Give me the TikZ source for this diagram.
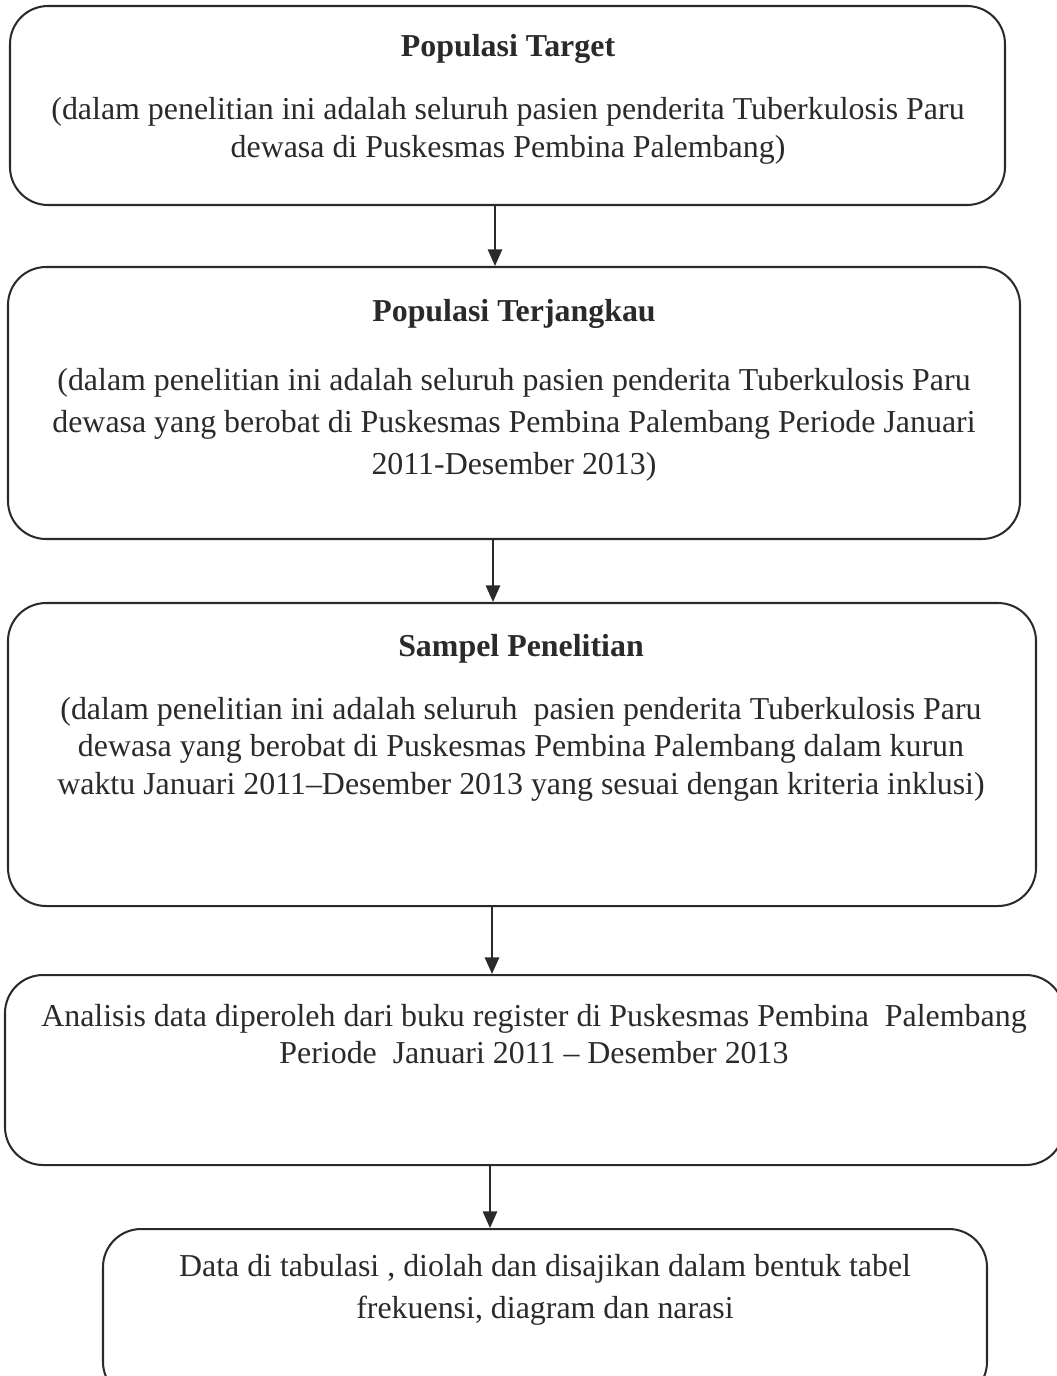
\documentclass[tikz,border=0pt]{standalone}
\usepackage{fontspec}
\setmainfont{Liberation Serif}
\usetikzlibrary{arrows.meta,fit}
\definecolor{ink}{HTML}{2A2A2A}
\tikzset{
  box/.style={draw=ink, line width=0.85pt, rounded corners=16pt, inner sep=0pt},
  txt/.style={text=ink, align=center, inner sep=0pt,
              font=\fontsize{13.4}{16}\selectfont},
  ttl/.style={txt, font=\fontsize{13.4}{16}\selectfont\bfseries},
  arr/.style={draw=ink, line width=0.85pt, -{Triangle[length=7pt,width=6pt]}}
}
\begin{document}
\begin{tikzpicture}[x=0.42pt,y=-0.42pt]
\useasboundingbox (0,0) rectangle (1057,1376);
\clip (0,0) rectangle (1057,1376);

% stage boxes
\node[box, fit={(10,6) (1005,205)}] (b1) {};
\node[box, fit={(8,267) (1020,539)}] (b2) {};
\node[box, fit={(8,603) (1036,906)}] (b3) {};
\node[box, fit={(5,975) (1064,1165)}] (b4) {};
\node[box, fit={(103,1229) (987,1400)}] (b5) {};

% box texts
\node[ttl] (t1) at (508,49) {Populasi Target};
\node[txt] (t1b) at (508,131) {(dalam penelitian ini adalah seluruh pasien penderita Tuberkulosis Paru\\dewasa di Puskesmas Pembina Palembang)};

\node[ttl] (t2) at (514,314) {Populasi Terjangkau};
\node[txt, font=\fontsize{13.4}{17.6}\selectfont] (t2b) at (514,425) {(dalam penelitian ini adalah seluruh pasien penderita Tuberkulosis Paru\\dewasa yang berobat di Puskesmas Pembina Palembang Periode Januari\\2011-Desember 2013)};

\node[ttl] (t3) at (521,649) {Sampel Penelitian};
\node[txt, font=\fontsize{13.4}{15.8}\selectfont] (t3b) at (521,749) {(dalam penelitian ini adalah seluruh\ \ pasien penderita Tuberkulosis Paru\\dewasa yang berobat di Puskesmas Pembina Palembang dalam kurun\\waktu Januari 2011--Desember 2013 yang sesuai dengan kriteria inklusi)};

\node[txt, font=\fontsize{13.4}{15.6}\selectfont] (t4b) at (534,1034) {Analisis data diperoleh dari buku register di Puskesmas Pembina\ \ Palembang\\Periode\ \ Januari 2011 -- Desember 2013};

\node[txt, font=\fontsize{13.4}{17.6}\selectfont] (t5b) at (545,1290) {Data di tabulasi , diolah dan disajikan dalam bentuk tabel\\frekuensi, diagram dan narasi};

% connector columns
\coordinate (x1) at (495,0);
\coordinate (x2) at (493,0);
\coordinate (x3) at (492,0);
\coordinate (x4) at (490,0);

\draw[arr] (b1.south -| x1) -- (b2.north -| x1);
\draw[arr] (b2.south -| x2) -- (b3.north -| x2);
\draw[arr] (b3.south -| x3) -- (b4.north -| x3);
\draw[arr] (b4.south -| x4) -- (b5.north -| x4);
\end{tikzpicture}
\end{document}
